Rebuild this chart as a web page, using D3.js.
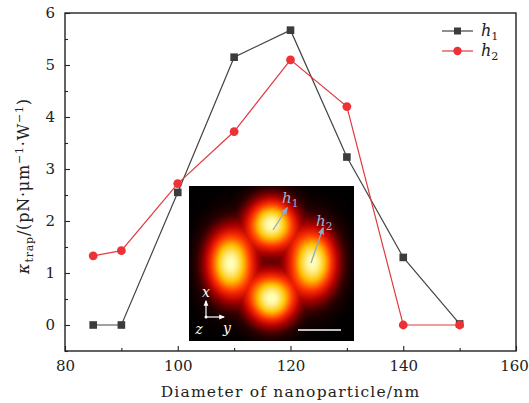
<!DOCTYPE html>
<html>
<head>
<meta charset="utf-8">
<script src="https://cdn.jsdelivr.net/npm/d3@7"></script>
<style>
  body { margin: 0; background: #fff; }
  svg text { font-family: "DejaVu Serif", "Liberation Serif", serif; fill: #222; }
</style>
</head>
<body>
<div id="chart"></div>
<script>
const diameters = [85, 90, 100, 110, 120, 130, 140, 150];
const h1Values  = [0, 0, 2.55, 5.15, 5.67, 3.23, 1.3, 0.02];
const h2Values  = [1.33, 1.43, 2.72, 3.72, 5.1, 4.2, 0, 0];
const xTicks = [80, 100, 120, 140, 160];
const xMinor = [90, 110, 130, 150];
const yTicks = [0, 1, 2, 3, 4, 5, 6];
const yMinor = [-0.5, 0.5, 1.5, 2.5, 3.5, 4.5, 5.5];

// inset field lobes (inset pixel units)
const lobeX  = [82, 41, 123, 82];
const lobeY  = [38, 77, 76, 112];
const lobeRx = [24, 23, 23, 24];
const lobeRy = [25, 33, 33, 25];

const W = 529, H = 403;
const M = { top: 13, right: 13, bottom: 52, left: 65 };

const svg = d3.select("#chart").append("svg")
  .attr("width", W).attr("height", H);

const x = d3.scaleLinear().domain([80, 160]).range([M.left, W - M.right]);
const y = d3.scaleLinear().domain([-0.5, 6]).range([H - M.bottom, M.top]);

// axes
const gx = svg.append("g")
  .attr("transform", `translate(0,${H - M.bottom})`)
  .call(d3.axisBottom(x).tickValues(xTicks).tickSize(-5).tickPadding(9).tickFormat(d3.format("d")));
svg.append("g")
  .attr("transform", `translate(0,${H - M.bottom})`)
  .call(d3.axisBottom(x).tickValues(xMinor).tickSize(-3).tickFormat(""));
svg.append("g")
  .attr("transform", `translate(${M.left},0)`)
  .call(d3.axisLeft(y).tickValues(yTicks).tickSize(-5).tickPadding(10).tickFormat(d3.format("d")));
svg.append("g")
  .attr("transform", `translate(${M.left},0)`)
  .call(d3.axisLeft(y).tickValues(yMinor).tickSize(-3).tickFormat(""));

svg.selectAll(".domain").remove();
svg.selectAll(".tick line").attr("stroke", "#222").attr("stroke-width", 1.1);
svg.selectAll(".tick text")
  .attr("font-family", "DejaVu Serif, serif")
  .attr("font-size", 15).attr("fill", "#222");
gx.selectAll(".tick text").filter(d => d === 160).attr("dx", -2);

svg.append("rect")
  .attr("x", M.left).attr("y", M.top)
  .attr("width", W - M.left - M.right).attr("height", H - M.top - M.bottom)
  .attr("fill", "none").attr("stroke", "#222").attr("stroke-width", 1.4);

// axis titles
svg.append("text")
  .attr("x", x(120)).attr("y", 397)
  .attr("text-anchor", "middle")
  .attr("font-size", 15.5).attr("letter-spacing", 1.2)
  .text("Diameter of nanoparticle/nm");

const yl = svg.append("text")
  .attr("transform", `translate(29,${186}) rotate(-90)`)
  .attr("text-anchor", "middle")
  .attr("font-size", 16).attr("letter-spacing", 0.8);
yl.append("tspan").attr("font-style", "italic").text("κ");
yl.append("tspan").attr("font-size", 11).attr("dy", 4).text("trap");
yl.append("tspan").attr("dy", -4).text("/(pN·μm");
yl.append("tspan").attr("font-size", 11).attr("dy", -6).text("−1");
yl.append("tspan").attr("dy", 6).text("·W");
yl.append("tspan").attr("font-size", 11).attr("dy", -6).text("−1");
yl.append("tspan").attr("dy", 6).text(")");

// inset heatmap
const IX = 189, IY = 186, IW = 165, IH = 155;
const canvas = document.createElement("canvas");
canvas.width = IW; canvas.height = IH;
const ctx = canvas.getContext("2d");
const img = ctx.createImageData(IW, IH);
const hot = d3.scaleLinear()
  .domain([0, 0.1, 0.3, 0.5, 0.75, 1])
  .range(["#000000", "#2a0000", "#b00000", "#ff3000", "#ffc000", "#ffffb8"])
  .clamp(true);
for (let j = 0; j < IH; j++) {
  for (let i = 0; i < IW; i++) {
    let vmax = 0, vsum = 0;
    lobeX.forEach((cx, k) => {
      const dx = (i - cx) / lobeRx[k], dy = (j - lobeY[k]) / lobeRy[k];
      const e = Math.exp(-(dx * dx + dy * dy));
      vsum += e;
      vmax = Math.max(vmax, e);
    });
    const v = vmax + 0.35 * (vsum - vmax);
    const c = d3.rgb(hot(Math.min(v, 1)));
    const p = (j * IW + i) * 4;
    img.data[p] = c.r; img.data[p + 1] = c.g; img.data[p + 2] = c.b; img.data[p + 3] = 255;
  }
}
ctx.putImageData(img, 0, 0);
svg.append("image")
  .attr("x", IX).attr("y", IY).attr("width", IW).attr("height", IH)
  .attr("href", canvas.toDataURL());

const defs = svg.append("defs");
defs.append("marker").attr("id", "ab").attr("viewBox", "0 0 10 10")
  .attr("refX", 8).attr("refY", 5).attr("markerWidth", 6).attr("markerHeight", 6)
  .attr("orient", "auto")
  .append("path").attr("d", "M0,1L10,5L0,9z").attr("fill", "#8fa8c8");
defs.append("marker").attr("id", "aw").attr("viewBox", "0 0 10 10")
  .attr("refX", 8).attr("refY", 5).attr("markerWidth", 5).attr("markerHeight", 5)
  .attr("orient", "auto")
  .append("path").attr("d", "M0,1L10,5L0,9z").attr("fill", "#fff");

svg.append("line").attr("x1", 273).attr("y1", 230).attr("x2", 287).attr("y2", 208)
  .attr("stroke", "#8fa8c8").attr("stroke-width", 1.3).attr("marker-end", "url(#ab)");
svg.append("line").attr("x1", 311).attr("y1", 263).attr("x2", 323).attr("y2", 228)
  .attr("stroke", "#8fa8c8").attr("stroke-width", 1.3).attr("marker-end", "url(#ab)");

function subLabel(px, py, base, sub, color, size) {
  const t = svg.append("text").attr("x", px).attr("y", py)
    .attr("font-size", size).style("fill", color);
  t.append("tspan").attr("font-style", "italic").text(base);
  t.append("tspan").attr("font-size", size * 0.7).attr("dy", size * 0.25).text(sub);
  return t;
}
subLabel(282, 203, "h", "1", "#9db4d4", 15);
subLabel(316, 226, "h", "2", "#9db4d4", 15);

// coordinate triad
svg.append("circle").attr("cx", 206).attr("cy", 317).attr("r", 1.5).attr("fill", "#fff");
svg.append("line").attr("x1", 206).attr("y1", 317).attr("x2", 206).attr("y2", 301)
  .attr("stroke", "#fff").attr("stroke-width", 1.2).attr("marker-end", "url(#aw)");
svg.append("line").attr("x1", 206).attr("y1", 317).attr("x2", 224).attr("y2", 317)
  .attr("stroke", "#fff").attr("stroke-width", 1.2).attr("marker-end", "url(#aw)");
svg.append("text").attr("x", 206).attr("y", 297).attr("text-anchor", "middle")
  .attr("font-size", 14).attr("font-style", "italic").style("fill", "#fff").text("x");
svg.append("text").attr("x", 199).attr("y", 334).attr("text-anchor", "middle")
  .attr("font-size", 14).attr("font-style", "italic").style("fill", "#fff").text("z");
svg.append("text").attr("x", 227).attr("y", 333).attr("text-anchor", "middle")
  .attr("font-size", 14).attr("font-style", "italic").style("fill", "#fff").text("y");
svg.append("line").attr("x1", 298).attr("y1", 330).attr("x2", 341).attr("y2", 330)
  .attr("stroke", "#fff").attr("stroke-width", 1.5);

// series
const series = [
  { name: "1", values: h1Values, color: "#444", fill: "#3c3c3c", shape: "square" },
  { name: "2", values: h2Values, color: "#e03a3e", fill: "#ec3237", shape: "circle" }
];
const line = d3.line().x(d => x(d[0])).y(d => y(d[1]));

series.forEach(s => {
  const pts = diameters.map((d, i) => [d, s.values[i]]);
  svg.append("path").datum(pts)
    .attr("fill", "none").attr("stroke", s.color).attr("stroke-width", 1.2)
    .attr("d", line);
  if (s.shape === "square") {
    svg.selectAll(null).data(pts).enter().append("rect")
      .attr("x", d => x(d[0]) - 3.8).attr("y", d => y(d[1]) - 3.8)
      .attr("width", 7.6).attr("height", 7.6).attr("fill", s.fill);
  } else {
    svg.selectAll(null).data(pts).enter().append("circle")
      .attr("cx", d => x(d[0])).attr("cy", d => y(d[1])).attr("r", 4.4)
      .attr("fill", s.fill);
  }
});

// legend
series.forEach((s, i) => {
  const ly = 31 + i * 20;
  svg.append("line").attr("x1", 442).attr("x2", 473).attr("y1", ly).attr("y2", ly)
    .attr("stroke", s.color).attr("stroke-width", 1.2);
  if (s.shape === "square") {
    svg.append("rect").attr("x", 457.5 - 3.5).attr("y", ly - 3.5)
      .attr("width", 7).attr("height", 7).attr("fill", s.fill);
  } else {
    svg.append("circle").attr("cx", 457.5).attr("cy", ly).attr("r", 4.2).attr("fill", s.fill);
  }
  subLabel(481, ly + 5, "h", s.name, "#222", 16);
});
</script>
</body>
</html>
